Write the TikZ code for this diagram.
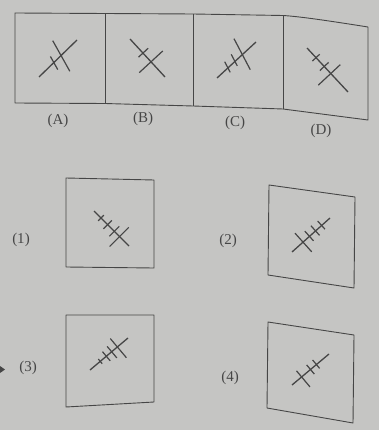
\documentclass[tikz,border=0pt]{standalone}
\usepackage{fontspec}
\setmainfont{Liberation Serif}
\usetikzlibrary{calc}
\definecolor{paper}{RGB}{197,197,195}
\definecolor{ink}{RGB}{70,70,70}
\definecolor{txt}{RGB}{70,70,70}
\tikzset{
  frame/.style={draw=ink, line width=0.9pt, line join=round},
  mainln/.style={draw=ink, line width=1.3pt},
  crossln/.style={draw=ink, line width=1.2pt},
  lbl/.style={text=txt, font=\fontsize{15}{15}\selectfont, inner sep=0pt},
}
\newcommand{\hatchfig}[4]{%
  \draw[mainln] #1 -- #2;
  \pgfmathsetmacro{\angB}{#3-180}
  \foreach \t/\a/\b in {#4} {
    \coordinate (hm) at ($#1!\t!#2$);
    \draw[crossln] ($(hm)!\a pt!#3:#2$) -- ($(hm)!\b pt!\angB:#2$);
  }
}
\begin{document}
\begin{tikzpicture}[x=1pt,y=-1pt]
\fill[paper] (0,0) rectangle (379,430);
\useasboundingbox (0,0) rectangle (379,430);
% top strip
\coordinate (t0) at (15,13);   \coordinate (b0) at (15,103);
\coordinate (t1) at (105,13.5);\coordinate (b1) at (105,103.5);
\coordinate (t2) at (193,14);  \coordinate (b2) at (193,106);
\coordinate (t3) at (283,15.5);\coordinate (b3) at (283,109);
\coordinate (t4) at (368,27);  \coordinate (b4) at (368,120);
\draw[frame] (t0) -- (t1) -- (t2) -- (t3) .. controls (300,16.5) and (330,21) .. (t4) -- (b4) -- (b3) -- (b2) -- (b1) -- (b0) -- cycle;
\draw[frame] (t1) -- (b1);
\draw[frame] (t2) -- (b2);
\draw[frame] (t3) -- (b3);
\node[lbl] (lA) at (58,121) {(A)};
\node[lbl] (lB) at (143,119) {(B)};
\node[lbl] (lC) at (235,123) {(C)};
\node[lbl] (lD) at (321,131) {(D)};
% figures A-D
\hatchfig{(39,77)}{(77,40)}{75}{0.58/17/18, 0.39/7/8}
\hatchfig{(130,39)}{(165,77)}{90}{0.6/16/16, 0.37/7/6}
\hatchfig{(217,78)}{(256,42)}{75}{0.65/18/17, 0.46/8/5, 0.28/7/5}
\hatchfig{(307,48)}{(348,92)}{90}{0.22/5/5, 0.42/6/6, 0.58/13/17}
% answer boxes
\draw[frame] (66,178) -- (154,180) -- (154,268) -- (66,267) -- cycle;
\draw[frame] (269,185) -- (355,197) -- (354,288) -- (268,275) -- cycle;
\draw[frame] (66,315) -- (154,315) -- (154,402) -- (66,407) -- cycle;
\draw[frame] (268,322) -- (354,335) -- (353,423) -- (267,408) -- cycle;
\node[lbl] (l1) at (21,240) {(1)};
\node[lbl] (l2) at (228,241) {(2)};
\node[lbl] (l3) at (28,368) {(3)};
\node[lbl] (l4) at (230,378) {(4)};
\fill[ink] (0,366) -- (5,369.5) -- (0,373) -- cycle;
% answer figures
\hatchfig{(94,211)}{(129,246)}{90}{0.2/4/4, 0.39/6/6, 0.58/7/7, 0.73/13/14}
\hatchfig{(292,252)}{(330,218)}{90}{0.29/12/13, 0.46/7/6, 0.62/7/6, 0.78/6/5}
\hatchfig{(90,370)}{(128,338)}{90}{0.27/3/3, 0.43/6/6, 0.57/7/8, 0.72/11/14}
\hatchfig{(292,385)}{(329,354)}{90}{0.26/8/13, 0.5/6/6, 0.66/6/5}
\end{tikzpicture}
\end{document}
